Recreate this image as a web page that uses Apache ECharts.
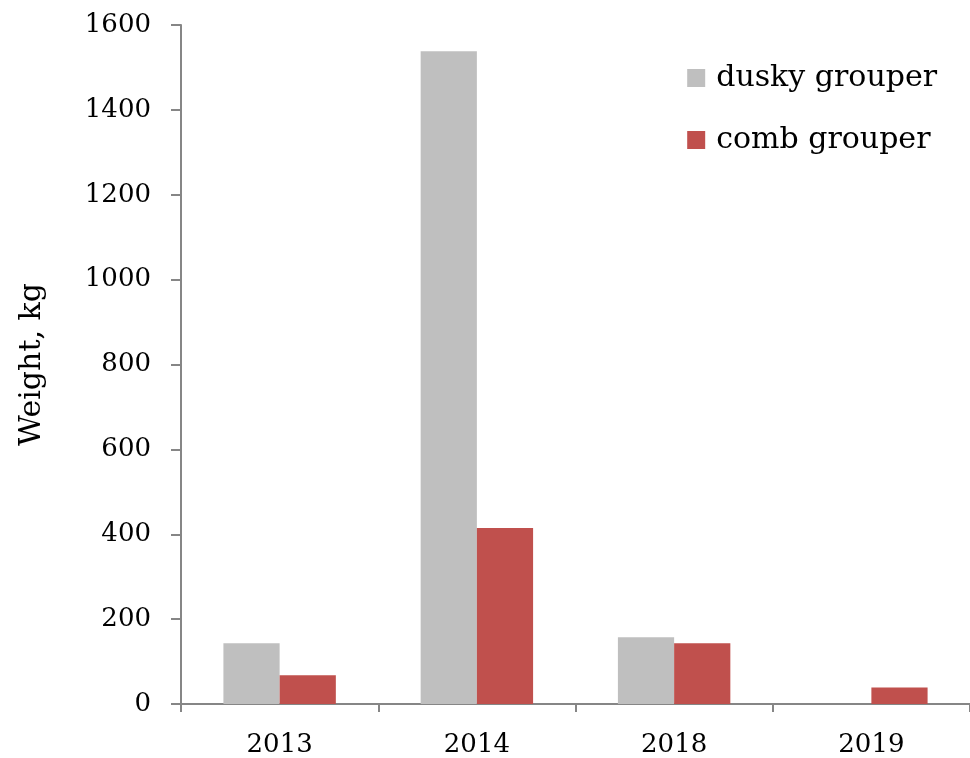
<!DOCTYPE html>
<html><head><meta charset="utf-8">
<script src="https://cdn.jsdelivr.net/npm/echarts@6/dist/echarts.min.js"></script>
<style>html,body{margin:0;padding:0;background:#fff}#c{width:970px;height:758px}</style>
</head><body><div id="c"></div>
<script>
const categories = ['2013', '2014', '2018', '2019'];
const duskyGrouper = [143, 1538, 157, 0];
const combGrouper = [68, 415, 143, 39];
const yTicks = [0, 200, 400, 600, 800, 1000, 1200, 1400, 1600];

const FONT = 'DejaVu Serif';
const chart = echarts.init(document.getElementById('c'));
chart.setOption({
  animation: false,
  textStyle: { fontFamily: FONT },
  grid: { left: 181, right: 0, top: 25, bottom: 54, containLabel: false, outerBoundsMode: 'none' },
  legend: {
    orient: 'vertical', right: 28, top: 58, itemGap: 32,
    itemWidth: 18, itemHeight: 18, icon: 'rect',
    textStyle: { fontFamily: FONT, fontSize: 30, color: '#000', padding: [0, 0, 0, 6] },
    data: ['dusky grouper', 'comb grouper']
  },
  xAxis: {
    type: 'category', data: categories,
    axisLine: { lineStyle: { color: '#868686', width: 2 } },
    axisTick: { show: true, alignWithLabel: false, length: 8, lineStyle: { color: '#868686', width: 2 } },
    axisLabel: { fontFamily: FONT, fontSize: 26, color: '#000', margin: 28 }
  },
  yAxis: {
    type: 'value', min: yTicks[0], max: yTicks[yTicks.length - 1], interval: 200,
    name: 'Weight, kg', nameLocation: 'middle', nameGap: 134, nameRotate: 90,
    nameTextStyle: { fontFamily: FONT, fontSize: 30, color: '#000' },
    axisLine: { show: true, lineStyle: { color: '#868686', width: 2 } },
    axisTick: { show: true, length: 10, lineStyle: { color: '#868686', width: 2 } },
    splitLine: { show: false },
    axisLabel: { fontFamily: FONT, fontSize: 26, color: '#000', margin: 30,
      formatter: v => String(v) }
  },
  series: [
    { name: 'dusky grouper', type: 'bar', data: duskyGrouper, barGap: '0%', barCategoryGap: '43%',
      itemStyle: { color: '#BFBFBF' } },
    { name: 'comb grouper', type: 'bar', data: combGrouper, barGap: '0%', barCategoryGap: '43%',
      itemStyle: { color: '#C0504D' } }
  ]
});
</script></body></html>
